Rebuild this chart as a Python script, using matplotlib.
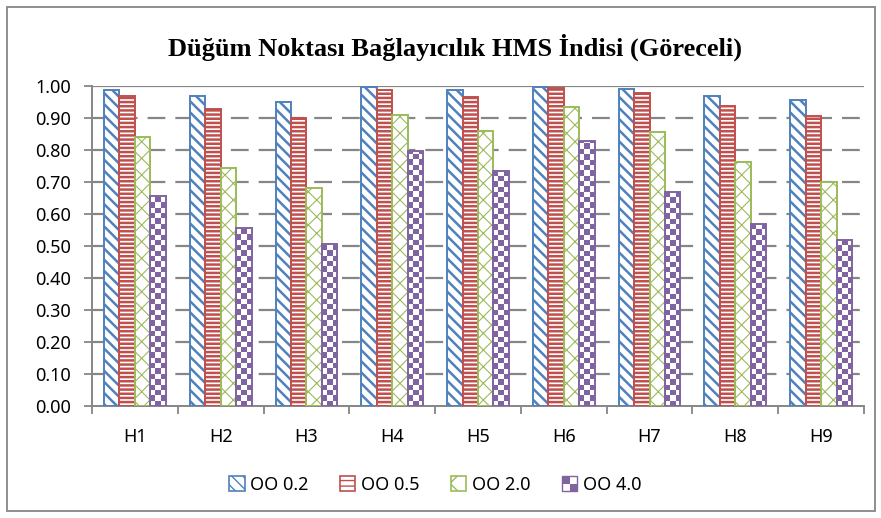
import numpy as np
import matplotlib
matplotlib.use("Agg")
import matplotlib.pyplot as plt
from matplotlib.patches import Rectangle, Patch
from matplotlib.legend_handler import HandlerBase

plt.rcParams['font.family'] = ['Noto Sans', 'DejaVu Sans']

groups = ["H1", "H2", "H3", "H4", "H5", "H6", "H7", "H8", "H9"]
series = ["OO 0.2", "OO 0.5", "OO 2.0", "OO 4.0"]
oo_02 = [0.988, 0.969, 0.950, 0.997, 0.988, 0.997, 0.990, 0.969, 0.956]
oo_05 = [0.969, 0.928, 0.900, 0.988, 0.966, 0.994, 0.977, 0.937, 0.907]
oo_20 = [0.840, 0.744, 0.680, 0.910, 0.860, 0.935, 0.857, 0.762, 0.700]
oo_40 = [0.656, 0.556, 0.505, 0.797, 0.734, 0.829, 0.670, 0.570, 0.520]

colors = ["#4F81BD", "#C0504D", "#9BBB59", "#8064A2"]
hatches = ["\\\\\\", "----", "xx", None]
hatch_lw = [1.8, 1.8, 0.8, 1.0]
grey = "#868686"

fig = plt.figure(figsize=(8.81, 5.18), dpi=100)
ax = fig.add_axes([0.1044, 0.2162, 0.8763, 0.6178])

x = np.arange(len(groups))
width = 0.18
values = [oo_02, oo_05, oo_20, oo_40]
checker_cell = 0.0167  # height of one checker square in data units

for i, (vals, col, hat) in enumerate(zip(values, colors, hatches)):
    pos = x + (i - 1.5) * width
    face = "white" if hat is not None else "none"
    with plt.rc_context({'hatch.linewidth': hatch_lw[i]}):
        bars = ax.bar(pos, vals, width, facecolor=face, edgecolor=col,
                      hatch=hat, linewidth=1.4, zorder=3)
    if hat is None:
        # checkerboard fill clipped to each bar
        for b, v in zip(bars, vals):
            rows = max(1, int(round(v / checker_cell)))
            idx = np.indices((rows, 3)).sum(axis=0) % 2
            img = np.ones((rows, 3, 3))
            img[idx == 1] = matplotlib.colors.to_rgb(col)
            im = ax.imshow(img, extent=(b.get_x(), b.get_x() + width, 0, rows * checker_cell),
                           origin="lower", aspect="auto", interpolation="nearest", zorder=2.9)
            im.set_clip_path(b)

ax.set_xlim(-0.5, len(groups) - 0.5)
ax.set_ylim(0, 1.0)
ax.set_yticks(np.arange(0, 1.01, 0.1))
ax.set_yticklabels([f"{t:.2f}" for t in np.arange(0, 1.01, 0.1)], fontsize=13)
ax.set_xticks(x)
ax.set_xticklabels(groups, fontsize=13)
ax.set_xticks(np.arange(-0.5, len(groups)), minor=True)
ax.tick_params(axis="x", which="major", length=0, pad=16)
ax.tick_params(axis="x", which="minor", length=6, color=grey, width=1.3)
ax.tick_params(axis="y", length=6, color=grey, width=1.3, pad=9)

for t in np.arange(0.1, 0.95, 0.1):
    ax.axhline(t, color=grey, lw=1.6, dashes=(8, 4.5), zorder=1)
ax.axhline(1.0, color=grey, lw=1.6, zorder=1)

for s in ["top", "right"]:
    ax.spines[s].set_visible(False)
for s in ["left", "bottom"]:
    ax.spines[s].set_color(grey)
    ax.spines[s].set_linewidth(1.4)


class CheckerHandler(HandlerBase):
    def create_artists(self, legend, orig_handle, xdescent, ydescent, width, height, fontsize, trans):
        s = min(width, height)
        x0 = -xdescent + (width - s) / 2
        y0 = -ydescent + (height - s) / 2
        arts = [Rectangle((x0, y0), s, s, facecolor="white", edgecolor=colors[3], lw=1.0, transform=trans)]
        h = s / 2
        arts.append(Rectangle((x0, y0 + h), h, h, facecolor=colors[3], lw=0, transform=trans))
        arts.append(Rectangle((x0 + h, y0), h, h, facecolor=colors[3], lw=0, transform=trans))
        return arts


handles = []
legend_hatches = ["\\\\\\", "---", "x"]
for i in range(3):
    with plt.rc_context({'hatch.linewidth': hatch_lw[i] + 0.6}):
        handles.append(Patch(facecolor="white", edgecolor=colors[i], hatch=legend_hatches[i], lw=1.2))
checker = Patch(facecolor="white", edgecolor=colors[3])
handles.append(checker)

fig.legend(handles, series, loc="center", bbox_to_anchor=(0.494, 0.064), ncol=4,
           frameon=False, fontsize=13, handlelength=0.85, handleheight=0.85,
           handletextpad=0.3, columnspacing=1.75,
           handler_map={checker: CheckerHandler()})

fig.text(0.516, 0.909, "Düğüm Noktası Bağlayıcılık HMS İndisi (Göreceli)",
         ha="center", va="center", fontsize=19, fontweight="bold",
         family=["Liberation Serif", "DejaVu Serif"])

fig.patches.append(Rectangle((0.008, 0.013), 0.985, 0.973, transform=fig.transFigure,
                             fill=False, edgecolor=grey, lw=1.3))

fig.savefig("out.png", dpi=100)
